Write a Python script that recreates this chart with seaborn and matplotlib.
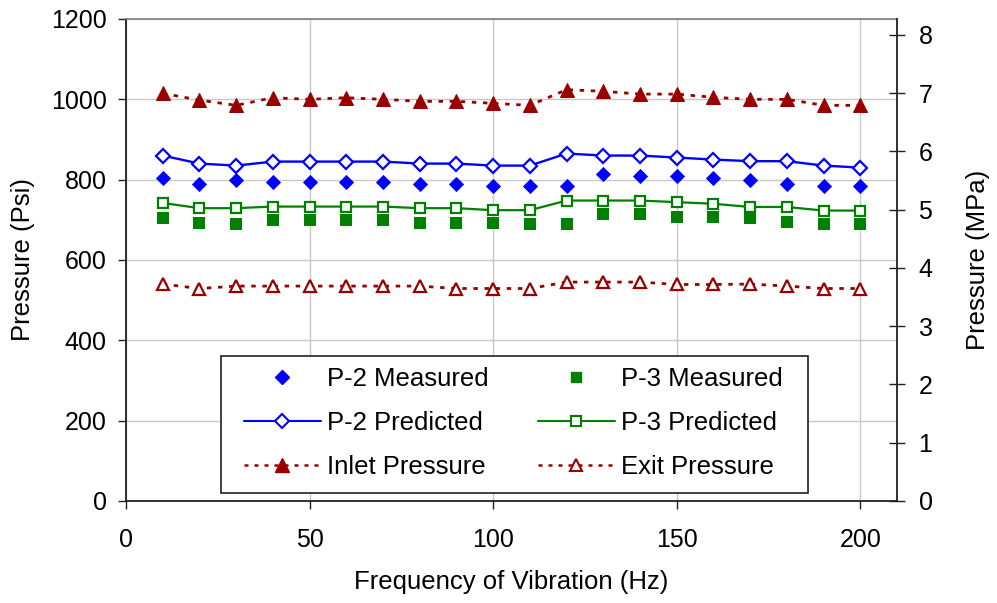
import matplotlib
matplotlib.use("Agg")
import matplotlib.pyplot as plt
import seaborn as sns
import pandas as pd
from matplotlib.lines import Line2D
from matplotlib.patches import Rectangle

# ---- data ----
freq = [10, 20, 30, 40, 50, 60, 70, 80, 90, 100, 110, 120, 130, 140, 150, 160, 170, 180, 190, 200]
p2_measured = [804, 790, 800, 795, 795, 795, 795, 790, 790, 785, 785, 785, 814, 809, 809, 804, 800, 790, 785, 785]
p3_measured = [704, 693, 689, 699, 699, 699, 699, 693, 693, 693, 689, 689, 714, 714, 708, 708, 704, 694, 689, 689]
p2_predicted = [860, 840, 835, 845, 845, 845, 845, 840, 840, 835, 835, 865, 860, 860, 855, 850, 846, 846, 835, 830]
p3_predicted = [742, 729, 729, 733, 733, 733, 733, 729, 729, 724, 724, 748, 748, 748, 744, 740, 732, 732, 723, 723]
inlet = [1015, 998, 985, 1004, 1000, 1004, 1000, 995, 995, 990, 985, 1024, 1020, 1013, 1013, 1005, 1000, 1000, 985, 985]
exit_p = [540, 529, 535, 535, 535, 535, 535, 535, 529, 529, 529, 545, 545, 545, 539, 539, 540, 535, 529, 529]

x_ticks = [0, 50, 100, 150, 200]
y_ticks = [0, 200, 400, 600, 800, 1000, 1200]
mpa_ticks = [0, 1, 2, 3, 4, 5, 6, 7, 8]
PSI_PER_MPA = 145.038

df = pd.DataFrame({"f": freq, "p2m": p2_measured, "p3m": p3_measured,
                   "p2p": p2_predicted, "p3p": p3_predicted,
                   "inlet": inlet, "exit": exit_p})

sns.set_theme(style="white")
plt.rcParams["font.family"] = ["Liberation Sans", "DejaVu Sans"]
plt.rcParams["text.color"] = "black"
plt.rcParams["axes.labelcolor"] = "black"
plt.rcParams["xtick.color"] = "black"
plt.rcParams["ytick.color"] = "black"

BLUE = "#0000FF"
GREEN = "#008000"
DRED = "#990000"
FS_TICK = 18
FS_LAB = 18.5
FS_LEG = 18.5

fig = plt.figure(figsize=(9.97, 6.03), dpi=100)
ax = fig.add_axes([0.1264, 0.1692, 0.8997 - 0.1264, 0.9685 - 0.1692])

dot = (0, (1.6, 2.4))

sns.lineplot(data=df, x="f", y="inlet", ax=ax, color=DRED, linestyle=dot, linewidth=2.0,
             marker="^", markersize=9.5, markerfacecolor=DRED, markeredgecolor=DRED, zorder=4)
sns.lineplot(data=df, x="f", y="exit", ax=ax, color=DRED, linestyle=dot, linewidth=2.0,
             marker="^", markersize=9, markerfacecolor="white", markeredgecolor=DRED,
             markeredgewidth=1.6, zorder=4)
sns.lineplot(data=df, x="f", y="p2p", ax=ax, color=BLUE, linewidth=1.7,
             marker="D", markersize=7.2, markerfacecolor="white", markeredgecolor=BLUE,
             markeredgewidth=1.6, zorder=4)
sns.lineplot(data=df, x="f", y="p3p", ax=ax, color=GREEN, linewidth=1.6,
             marker="s", markersize=7, markerfacecolor="white", markeredgecolor=GREEN,
             markeredgewidth=1.6, zorder=4)
sns.scatterplot(data=df, x="f", y="p2m", ax=ax, color=BLUE, marker="D", s=60,
                linewidth=0, zorder=5)
sns.scatterplot(data=df, x="f", y="p3m", ax=ax, color=GREEN, marker="s", s=64,
                linewidth=0, zorder=5)

ax.set_xlim(0, 210)
ax.set_ylim(0, 1200)
ax.set_xticks(x_ticks)
ax.set_yticks(y_ticks)
ax.grid(True, color="#C8C8C8", linewidth=1.0)
ax.set_axisbelow(True)

for s in ["left", "bottom"]:
    ax.spines[s].set_color("#202020")
    ax.spines[s].set_linewidth(1.3)
ax.spines["top"].set_color("#808080")
ax.spines["top"].set_linewidth(1.2)
ax.spines["right"].set_visible(False)

ax.tick_params(axis="x", direction="out", length=5.5, width=1, color="#202020",
               labelsize=FS_TICK, pad=14, bottom=True, labelcolor="black")
ax.tick_params(axis="y", direction="out", length=6, width=1, color="#202020",
               labelsize=FS_TICK, pad=8, left=True, labelcolor="black")
ax.set_xlabel("Frequency of Vibration (Hz)", fontsize=FS_LAB, labelpad=13, color="black")
ax.set_ylabel("Pressure (Psi)", fontsize=FS_LAB, labelpad=11, color="black")

ax2 = ax.twinx()
ax2.set_ylim(0, 1200 / PSI_PER_MPA)
ax2.set_yticks(mpa_ticks)
ax2.grid(False)
for s in ["left", "bottom", "top"]:
    ax2.spines[s].set_visible(False)
ax2.spines["right"].set_color("#202020")
ax2.spines["right"].set_linewidth(1.3)
ax2.tick_params(axis="y", direction="inout", length=11, width=1, color="#202020",
                labelsize=FS_TICK, pad=10, right=True, labelcolor="black")
ax2.set_ylabel("Pressure (MPa)", fontsize=FS_LAB, labelpad=24, color="black")

# legend frame (drawn separately to match the wider side padding)
frame = Rectangle((0.1228, 0.0166), 0.7617, 0.2842, transform=ax.transAxes,
                  facecolor="white", edgecolor="#202020", linewidth=1.2, zorder=9)
ax.add_patch(frame)

handles = [
    Line2D([], [], linestyle="none", marker="D", markersize=7.5, color=BLUE),
    Line2D([], [], color=BLUE, linewidth=1.5, marker="D", markersize=6.8,
           markerfacecolor="white", markeredgecolor=BLUE, markeredgewidth=1.5),
    Line2D([], [], color=DRED, linestyle=dot, linewidth=1.8, marker="^", markersize=9.5,
           markerfacecolor=DRED, markeredgecolor=DRED),
    Line2D([], [], linestyle="none", marker="s", markersize=7.2, color=GREEN),
    Line2D([], [], color=GREEN, linewidth=1.5, marker="s", markersize=6.8,
           markerfacecolor="white", markeredgecolor=GREEN, markeredgewidth=1.5),
    Line2D([], [], color=DRED, linestyle=dot, linewidth=1.8, marker="^", markersize=9,
           markerfacecolor="white", markeredgecolor=DRED, markeredgewidth=1.5),
]
labels = ["P-2 Measured", "P-2 Predicted", "Inlet Pressure",
          "P-3 Measured", "P-3 Predicted", "Exit Pressure"]
leg = ax.legend(handles, labels, ncol=2, loc="center",
                bbox_to_anchor=(0.5026, 0.1618),
                fontsize=FS_LEG, frameon=False, handlelength=3.0, handletextpad=0.25,
                columnspacing=1.9, labelspacing=0.78, borderpad=0.0,
                borderaxespad=0)
leg.set_zorder(10)

fig.savefig("out.png", dpi=100)
